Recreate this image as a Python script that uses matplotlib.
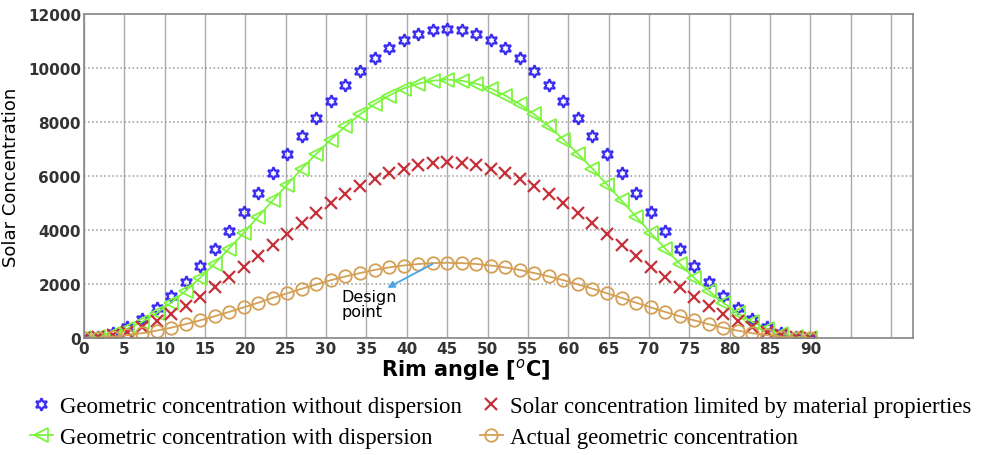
import matplotlib.pyplot as plt

# Rim angle (deg) of the sampled points
rim_angle = [0, 1.8, 3.6, 5.4, 7.2, 9, 10.8, 12.6, 14.4, 16.2, 18, 19.8, 21.6, 23.4, 25.2,
             27, 28.8, 30.6, 32.4, 34.2, 36, 37.8, 39.6, 41.4, 43.2, 45, 46.8, 48.6, 50.4,
             52.2, 54, 55.8, 57.6, 59.4, 61.2, 63, 64.8, 66.6, 68.4, 70.2, 72, 73.8, 75.6,
             77.4, 79.2, 81, 82.8, 84.6, 86.4, 88.2, 90]

# geometric concentration without dispersion
geo_no_disp = [0, 45, 180, 400, 710, 1090, 1550, 2080, 2660, 3290, 3960, 4650, 5370, 6090,
               6800, 7490, 8160, 8790, 9370, 9900, 10360, 10740, 11050, 11270, 11400, 11450,
               11400, 11270, 11050, 10740, 10360, 9900, 9370, 8790, 8160, 7490, 6800, 6090,
               5370, 4650, 3960, 3290, 2660, 2080, 1550, 1090, 710, 400, 180, 45, 0]

# geometric concentration with dispersion
geo_disp = [0, 40, 150, 340, 590, 910, 1300, 1740, 2220, 2750, 3310, 3890, 4490, 5090,
            5680, 6270, 6820, 7350, 7840, 8280, 8660, 8980, 9240, 9420, 9530, 9570,
            9530, 9420, 9240, 8980, 8660, 8280, 7840, 7350, 6820, 6270, 5680, 5090,
            4490, 3890, 3310, 2750, 2220, 1740, 1300, 910, 590, 340, 150, 40, 0]

# solar concentration limited by material properties
material = [0, 25, 100, 230, 400, 620, 880, 1180, 1510, 1870, 2250, 2640, 3050, 3450,
            3860, 4250, 4630, 4990, 5320, 5620, 5880, 6100, 6270, 6400, 6470, 6500,
            6470, 6400, 6270, 6100, 5880, 5620, 5320, 4990, 4630, 4250, 3860, 3450,
            3050, 2640, 2250, 1870, 1510, 1180, 880, 620, 400, 230, 100, 25, 0]

# actual geometric concentration
actual = [0, 10, 45, 100, 170, 265, 375, 505, 645, 800, 960, 1130, 1300, 1480,
          1650, 1820, 1980, 2135, 2275, 2400, 2515, 2610, 2680, 2735, 2770, 2780,
          2770, 2735, 2680, 2610, 2515, 2400, 2275, 2135, 1980, 1820, 1650, 1480,
          1300, 1130, 960, 800, 645, 505, 375, 265, 170, 100, 45, 10, 0]

x_ticks = list(range(0, 105, 5))
x_labels = [str(t) if t <= 90 else '' for t in x_ticks]
y_ticks = [0, 2000, 4000, 6000, 8000, 10000, 12000]

fig = plt.figure(figsize=(9.87, 4.56), dpi=100)
ax = fig.add_axes([0.085, 0.257, 0.84, 0.71])

h1, = ax.plot(rim_angle, geo_no_disp, linestyle='none', marker=(6, 1, 0), markersize=9,
              markerfacecolor='none', markeredgecolor='#3a2df0', markeredgewidth=1.6,
              label='Geometric concentration without dispersion')
h2, = ax.plot(rim_angle, geo_disp, color='#7cf53e', marker='<', markersize=10,
              markerfacecolor='none', markeredgewidth=1.3, linewidth=1.3,
              label='Geometric concentration with dispersion')
h3, = ax.plot(rim_angle, material, linestyle='none', marker='x', markersize=8,
              color='#c8303a', markeredgewidth=1.6,
              label='Solar concentration limited by material propierties')
h4, = ax.plot(rim_angle, actual, color='#d4a055', marker='o', markersize=9,
              markerfacecolor='none', markeredgewidth=1.3, linewidth=1.3,
              label='Actual geometric concentration')

# design point
ax.text(31.9, 1250, 'Design\npoint', fontsize=11.5, ha='left', va='center', linespacing=1.0)
ax.annotate('', xy=(37.6, 1850), xytext=(43.2, 2740),
            arrowprops=dict(arrowstyle='-|>', color='#4aa3e6', lw=1.3, shrinkA=0, shrinkB=0))

ax.set_xlim(0, 102.7)
ax.set_ylim(0, 12000)
ax.set_xticks(x_ticks)
ax.set_xticklabels(x_labels)
ax.set_yticks(y_ticks)
ax.tick_params(direction='in', length=0, labelsize=11, pad=2)
for lab in ax.get_xticklabels() + ax.get_yticklabels():
    lab.set_fontweight('bold')
    lab.set_color('#333333')
ax.grid(True, axis='x', color='#aaaaaa', linestyle='-', linewidth=1)
ax.grid(True, axis='y', color='#999999', linestyle=':', linewidth=1.1)
ax.set_axisbelow(True)
for s in ax.spines.values():
    s.set_color('#888888')
    s.set_linewidth(1.2)

ax.set_ylabel('Solar Concentration', fontsize=13, labelpad=6)
fig.text(466 / 987, 1 - 370 / 456, 'Rim angle [$^{o}$C]', fontsize=15, fontweight='bold',
         ha='center', va='center')

leg_font = {'family': 'Liberation Serif', 'size': 16.5}
leg1 = fig.legend(handles=[h1, h2], loc='upper left', bbox_to_anchor=(30 / 987, 1 - 397 / 456),
                  frameon=False, prop=leg_font, handlelength=1.0, handletextpad=0.3,
                  labelspacing=0.42, borderpad=0, borderaxespad=0)
leg2 = fig.legend(handles=[h3, h4], loc='upper left', bbox_to_anchor=(480 / 987, 1 - 397 / 456),
                  frameon=False, prop=leg_font, handlelength=1.0, handletextpad=0.3,
                  labelspacing=0.42, borderpad=0, borderaxespad=0)

plt.savefig('out.png')
